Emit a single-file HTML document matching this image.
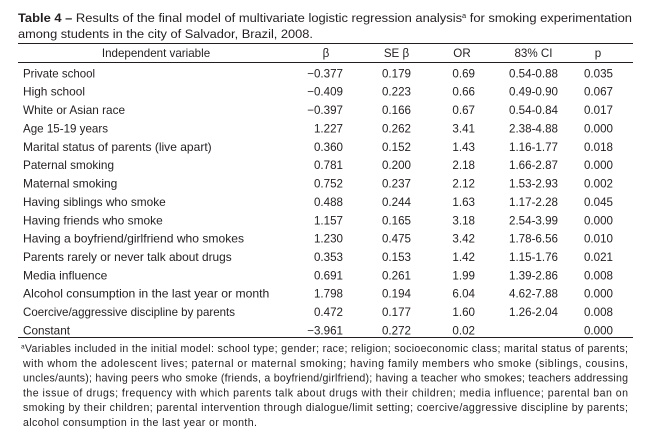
<!DOCTYPE html>
<html><head><meta charset="utf-8"><style>
html,body{margin:0;padding:0;background:#fff;}
svg{display:block;}
text{font-family:"Liberation Sans",sans-serif;fill:#231f20;}
.b{font-size:11.6px;}
.f{font-size:10.6px;}
.t{font-size:12.2px;}
</style></head><body>
<svg width="651" height="447" viewBox="0 0 651 447" xmlns="http://www.w3.org/2000/svg">
<rect width="651" height="447" fill="#fff"/>
<text class="t" x="18" y="22" textLength="614" lengthAdjust="spacingAndGlyphs"><tspan font-weight="bold">Table 4 –</tspan> Results of the final model of multivariate logistic regression analysis<tspan font-size="7" dy="-4">a</tspan><tspan dy="4"> for smoking experimentation</tspan></text>
<text class="t" x="18" y="38" textLength="295" lengthAdjust="spacingAndGlyphs">among students in the city of Salvador, Brazil, 2008.</text>
<line x1="18" y1="43.5" x2="633" y2="43.5" stroke="#231f20" stroke-width="1"/>
<line x1="18" y1="62.5" x2="633" y2="62.5" stroke="#231f20" stroke-width="1"/>
<line x1="18" y1="337.5" x2="633" y2="337.5" stroke="#231f20" stroke-width="1"/>
<g class="b">
<text x="156" y="57" text-anchor="middle">Independent variable</text>
<text x="326" y="57" text-anchor="middle">β</text>
<text x="396.5" y="57" text-anchor="middle">SE β</text>
<text x="462" y="57" text-anchor="middle">OR</text>
<text x="533.5" y="57" text-anchor="middle">83% CI</text>
<text x="598" y="57" text-anchor="middle">p</text>
</g>
<g class="b">
<text x="23" y="77.3" textLength="72" lengthAdjust="spacingAndGlyphs">Private school</text>
<text x="23" y="95.7" textLength="62" lengthAdjust="spacingAndGlyphs">High school</text>
<text x="23" y="114.0" textLength="102" lengthAdjust="spacingAndGlyphs">White or Asian race</text>
<text x="23" y="132.4" textLength="85" lengthAdjust="spacingAndGlyphs">Age 15-19 years</text>
<text x="23" y="150.8" textLength="188.7" lengthAdjust="spacingAndGlyphs">Marital status of parents (live apart)</text>
<text x="23" y="169.1" textLength="91" lengthAdjust="spacingAndGlyphs">Paternal smoking</text>
<text x="23" y="187.5" textLength="94.3" lengthAdjust="spacingAndGlyphs">Maternal smoking</text>
<text x="23" y="205.9" textLength="142.7" lengthAdjust="spacingAndGlyphs">Having siblings who smoke</text>
<text x="23" y="224.3" textLength="139.7" lengthAdjust="spacingAndGlyphs">Having friends who smoke</text>
<text x="23" y="242.6" textLength="221" lengthAdjust="spacingAndGlyphs">Having a boyfriend/girlfriend who smokes</text>
<text x="23" y="261.0" textLength="208.7" lengthAdjust="spacingAndGlyphs">Parents rarely or never talk about drugs</text>
<text x="23" y="279.4" textLength="84.3" lengthAdjust="spacingAndGlyphs">Media influence</text>
<text x="23" y="297.7" textLength="246.3" lengthAdjust="spacingAndGlyphs">Alcohol consumption in the last year or month</text>
<text x="23" y="316.1" textLength="212" lengthAdjust="spacingAndGlyphs">Coercive/aggressive discipline by parents</text>
<text x="23" y="334.5" textLength="47" lengthAdjust="spacingAndGlyphs">Constant</text>
</g>
<g class="b" text-anchor="end">
<text x="343" y="77.3">−0.377</text><text x="411" y="77.3">0.179</text><text x="475" y="77.3">0.69</text><text x="558" y="77.3">0.54-0.88</text><text x="613" y="77.3">0.035</text>
<text x="343" y="95.7">−0.409</text><text x="411" y="95.7">0.223</text><text x="475" y="95.7">0.66</text><text x="558" y="95.7">0.49-0.90</text><text x="613" y="95.7">0.067</text>
<text x="343" y="114.0">−0.397</text><text x="411" y="114.0">0.166</text><text x="475" y="114.0">0.67</text><text x="558" y="114.0">0.54-0.84</text><text x="613" y="114.0">0.017</text>
<text x="343" y="132.4">1.227</text><text x="411" y="132.4">0.262</text><text x="475" y="132.4">3.41</text><text x="558" y="132.4">2.38-4.88</text><text x="613" y="132.4">0.000</text>
<text x="343" y="150.8">0.360</text><text x="411" y="150.8">0.152</text><text x="475" y="150.8">1.43</text><text x="558" y="150.8">1.16-1.77</text><text x="613" y="150.8">0.018</text>
<text x="343" y="169.1">0.781</text><text x="411" y="169.1">0.200</text><text x="475" y="169.1">2.18</text><text x="558" y="169.1">1.66-2.87</text><text x="613" y="169.1">0.000</text>
<text x="343" y="187.5">0.752</text><text x="411" y="187.5">0.237</text><text x="475" y="187.5">2.12</text><text x="558" y="187.5">1.53-2.93</text><text x="613" y="187.5">0.002</text>
<text x="343" y="205.9">0.488</text><text x="411" y="205.9">0.244</text><text x="475" y="205.9">1.63</text><text x="558" y="205.9">1.17-2.28</text><text x="613" y="205.9">0.045</text>
<text x="343" y="224.3">1.157</text><text x="411" y="224.3">0.165</text><text x="475" y="224.3">3.18</text><text x="558" y="224.3">2.54-3.99</text><text x="613" y="224.3">0.000</text>
<text x="343" y="242.6">1.230</text><text x="411" y="242.6">0.475</text><text x="475" y="242.6">3.42</text><text x="558" y="242.6">1.78-6.56</text><text x="613" y="242.6">0.010</text>
<text x="343" y="261.0">0.353</text><text x="411" y="261.0">0.153</text><text x="475" y="261.0">1.42</text><text x="558" y="261.0">1.15-1.76</text><text x="613" y="261.0">0.021</text>
<text x="343" y="279.4">0.691</text><text x="411" y="279.4">0.261</text><text x="475" y="279.4">1.99</text><text x="558" y="279.4">1.39-2.86</text><text x="613" y="279.4">0.008</text>
<text x="343" y="297.7">1.798</text><text x="411" y="297.7">0.194</text><text x="475" y="297.7">6.04</text><text x="558" y="297.7">4.62-7.88</text><text x="613" y="297.7">0.000</text>
<text x="343" y="316.1">0.472</text><text x="411" y="316.1">0.177</text><text x="475" y="316.1">1.60</text><text x="558" y="316.1">1.26-2.04</text><text x="613" y="316.1">0.008</text>
<text x="343" y="334.5">−3.961</text><text x="411" y="334.5">0.272</text><text x="475" y="334.5">0.02</text><text x="613" y="334.5">0.000</text>
</g>
<g class="f">
<text x="21" y="352" textLength="607" lengthAdjust="spacing"><tspan font-size="6.5" dy="-3.5">a</tspan><tspan dy="3.5">Variables included in the initial model: school type; gender; race; religion; socioeconomic class; marital status of parents;</tspan></text>
<text x="23" y="366.8" textLength="605" lengthAdjust="spacing">with whom the adolescent lives; paternal or maternal smoking; having family members who smoke (siblings, cousins,</text>
<text x="23" y="381.5" textLength="605" lengthAdjust="spacing">uncles/aunts); having peers who smoke (friends, a boyfriend/girlfriend); having a teacher who smokes; teachers addressing</text>
<text x="23" y="396.3" textLength="605" lengthAdjust="spacing">the issue of drugs; frequency with which parents talk about drugs with their children; media influence; parental ban on</text>
<text x="23" y="411" textLength="605" lengthAdjust="spacing">smoking by their children; parental intervention through dialogue/limit setting; coercive/aggressive discipline by parents;</text>
<text x="23" y="425.8" textLength="234" lengthAdjust="spacing">alcohol consumption in the last year or month.</text>
</g>
</svg>
</body></html>
